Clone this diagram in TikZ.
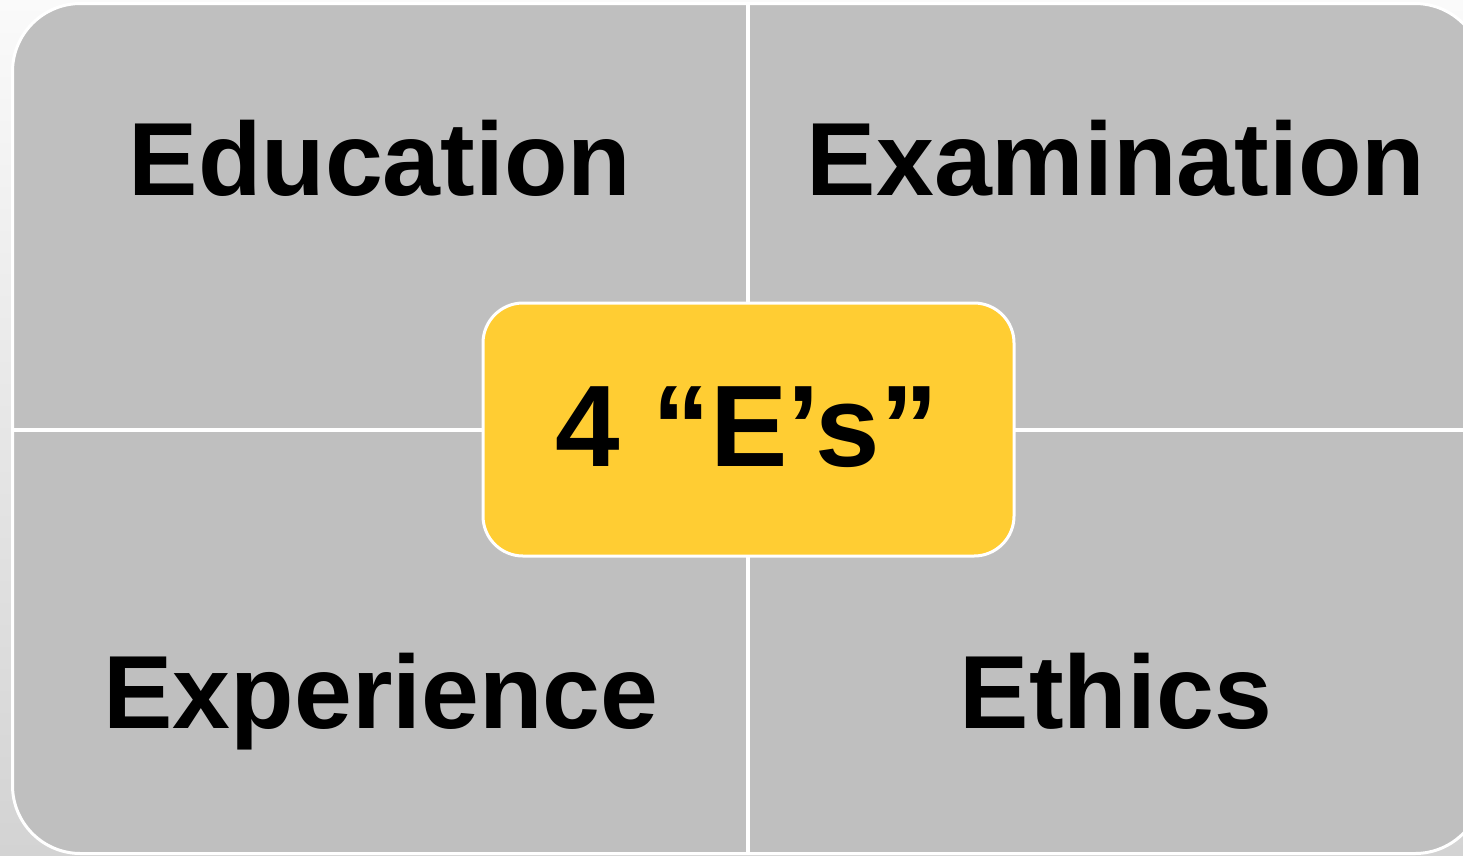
\documentclass[tikz,border=0pt]{standalone}
\usepackage{fontspec}
\setmainfont{Liberation Sans}
\definecolor{cellgray}{HTML}{BFBFBF}
\definecolor{hubyellow}{HTML}{FFCD33}
\definecolor{bgtop}{HTML}{FAFAFA}
\definecolor{bgbottom}{HTML}{D3D3D3}
\tikzset{
  panel/.style={fill=cellgray, draw=white, line width=3pt, rounded corners=68pt},
  divider/.style={draw=white, line width=4pt},
  hub/.style={fill=hubyellow, draw=white, line width=3pt, rounded corners=40pt,
    minimum width=531pt, minimum height=253pt, inner sep=0pt},
  label/.style={anchor=base, inner sep=0pt, font=\fontsize{104}{110}\selectfont\bfseries},
  hublabel/.style={anchor=base, inner sep=0pt, font=\fontsize{116}{122}\selectfont\bfseries}
}
\begin{document}
\begin{tikzpicture}[x=1pt,y=-1pt]
  \useasboundingbox (0,0) rectangle (1463,855);
  \clip (0,0) rectangle (1463,855);
  % soft grey backdrop
  \fill[top color=bgtop, bottom color=bgbottom] (0,0) rectangle (1463,855);
  % outer panel holding the four cells
  \draw[panel] (12.5,3.5) rectangle (1483,853.5);
  % cell dividers, running from border to border
  \coordinate (vtop) at (748,3.5);
  \coordinate (vbot) at (748,853.5);
  \coordinate (hleft) at (12.5,429.7);
  \coordinate (hright) at (1483,429.7);
  \draw[divider] (vtop) -- (vbot);
  \draw[divider] (hleft) -- (hright);
  % cell labels
  \node[label] (education)   at (380,195.5) {Education};
  \node[label] (examination) at (1116,195.5) {Examination};
  \node[label] (experience)  at (381,728) {Experience};
  \node[label] (ethics)      at (1116,728) {Ethics};
  % central hub
  \node[hub] (hub) at (748.5,429.5) {};
  \node[hublabel] (hubtext) at (747,466) {4 “E’s”};
\end{tikzpicture}
\end{document}
